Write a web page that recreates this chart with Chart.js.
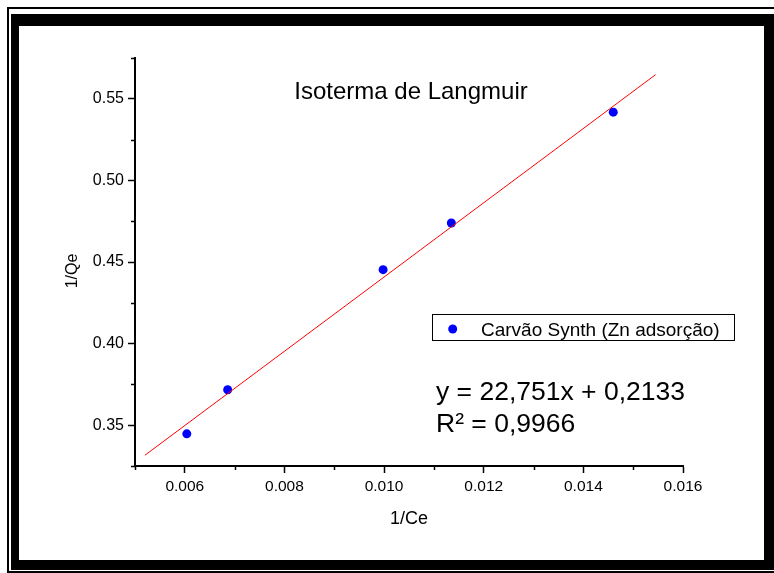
<!DOCTYPE html>
<html>
<head>
<meta charset="utf-8">
<script src="https://cdn.jsdelivr.net/npm/chart.js@4.4.1/dist/chart.umd.min.js"></script>
<style>
  html, body { margin: 0; padding: 0; background: #fff; }
  #wrap { width: 774px; height: 573px; }
</style>
</head>
<body>
<div id="wrap"><canvas id="myChart" width="774" height="573"></canvas></div>
<script>
// values
const xValues = [0.00604, 0.00686, 0.00998, 0.01135, 0.0146];
const yValues = [0.3447, 0.3717, 0.4453, 0.4739, 0.5418];
const fitX = [0.0052, 0.01545];
const fitY = [0.3316, 0.5648];
const xRange = [0.005, 0.016];
const yRange = [0.325, 0.575];
const seriesLabel = "Carvão Synth (Zn adsorção)";
const chartTitle = "Isoterma de Langmuir";
const equationLines = ["y = 22,751x + 0,2133", "R² = 0,9966"];
const xTitle = "1/Ce";
const yTitle = "1/Qe";

const fontFamily = '"Liberation Sans", Arial, sans-serif';

const isMajorX = v => Math.round(v * 1000) % 2 === 0;
const isMajorY = v => Math.round(v * 1000) % 50 === 0;

// minor ticks, frame, titles, legend box and equation
const extras = {
  id: "extras",
  afterDraw(chart) {
    const ctx = chart.ctx;
    const xs = chart.scales.x, ys = chart.scales.y;
    const area = chart.chartArea;
    ctx.save();

    // minor ticks
    ctx.strokeStyle = "#000";
    ctx.lineWidth = 1.5;
    ctx.beginPath();
    xs.ticks.forEach(t => {
      if (!isMajorX(t.value)) {
        const px = Math.round(xs.getPixelForValue(t.value)) + 0.5;
        ctx.moveTo(px, area.bottom);
        ctx.lineTo(px, area.bottom + 4);
      }
    });
    ys.ticks.forEach(t => {
      if (!isMajorY(t.value)) {
        const py = Math.round(ys.getPixelForValue(t.value)) + 0.5;
        ctx.moveTo(area.left - 4, py);
        ctx.lineTo(area.left, py);
      }
    });
    ctx.stroke();

    // y axis title
    ctx.fillStyle = "#000";
    ctx.save();
    ctx.translate(73, 271);
    ctx.rotate(-Math.PI / 2);
    ctx.font = "16px " + fontFamily;
    ctx.textAlign = "center";
    ctx.textBaseline = "middle";
    ctx.fillText(yTitle, 0, 0);
    ctx.restore();

    // title
    ctx.font = "24px " + fontFamily;
    ctx.textAlign = "center";
    ctx.textBaseline = "alphabetic";
    ctx.fillText(chartTitle, 411, 99);

    // legend box
    ctx.lineWidth = 1;
    ctx.strokeRect(432.5, 314.5, 302, 26);
    ctx.fillStyle = "#0000ff";
    ctx.beginPath();
    ctx.arc(452.7, 329, 4.5, 0, Math.PI * 2);
    ctx.fill();
    ctx.fillStyle = "#000";
    ctx.textAlign = "left";
    ctx.font = "19px " + fontFamily;
    ctx.fillText(seriesLabel, 481, 336);

    // equation
    ctx.font = "26.5px " + fontFamily;
    ctx.fillText(equationLines[0], 436, 400);
    ctx.fillText(equationLines[1], 436, 432);

    // frame
    ctx.fillStyle = "#000";
    ctx.fillRect(7, 7, 767, 2);
    ctx.fillRect(7, 7, 2, 566);
    ctx.fillRect(7, 571, 767, 2);
    ctx.fillRect(11, 14, 763, 12);
    ctx.fillRect(11, 14, 8, 556);
    ctx.fillRect(11, 560, 763, 10);
    ctx.fillRect(764, 14, 10, 556);
    ctx.restore();
  }
};

const config = {
  type: "scatter",
  data: {
    datasets: [
      {
        label: "fit",
        data: fitX.map((x, i) => ({ x: x, y: fitY[i] })),
        showLine: true,
        borderColor: "#ff0000",
        borderWidth: 1,
        pointRadius: 0,
        fill: false,
      },
      {
        label: seriesLabel,
        data: xValues.map((x, i) => ({ x: x, y: yValues[i] })),
        pointRadius: 4.5,
        pointBackgroundColor: "#0000ff",
        pointBorderWidth: 0,
        showLine: false,
      },
    ],
  },
  options: {
    responsive: false,
    animation: false,
    layout: { padding: { top: 58, right: 91, left: 0, bottom: 0 } },
    plugins: {
      legend: { display: false },
      tooltip: { enabled: false },
    },
    scales: {
      x: {
        type: "linear",
        min: xRange[0],
        max: xRange[1],
        afterFit: s => { s.height = 107; },
        border: { display: true, color: "#000", width: 2 },
        grid: {
          drawOnChartArea: false,
          tickLength: 7,
          tickWidth: 1.5,
          tickColor: c => (c.tick && isMajorX(c.tick.value) ? "#000" : "rgba(0,0,0,0)"),
        },
        ticks: {
          stepSize: 0.001,
          autoSkip: false,
          maxRotation: 0,
          padding: 4,
          color: "#000",
          font: { family: fontFamily, size: 15.5 },
          callback: v => (isMajorX(v) ? v.toFixed(3) : ""),
        },
        title: {
          display: true,
          text: xTitle,
          color: "#000",
          font: { family: fontFamily, size: 18 },
          padding: { top: 0, bottom: 43 },
        },
      },
      y: {
        type: "linear",
        min: yRange[0],
        max: yRange[1],
        afterFit: s => { s.width = 135; },
        border: { display: true, color: "#000", width: 2 },
        grid: {
          drawOnChartArea: false,
          tickLength: 7,
          tickWidth: 1.5,
          tickColor: c => (c.tick && isMajorY(c.tick.value) ? "#000" : "rgba(0,0,0,0)"),
        },
        ticks: {
          stepSize: 0.025,
          autoSkip: false,
          padding: 4,
          color: "#000",
          font: { family: fontFamily, size: 16 },
          callback: v => (isMajorY(v) ? v.toFixed(2) : ""),
        },
      },
    },
  },
  plugins: [extras],
};

var myChart = new Chart(document.getElementById("myChart"), config);
</script>
</body>
</html>
